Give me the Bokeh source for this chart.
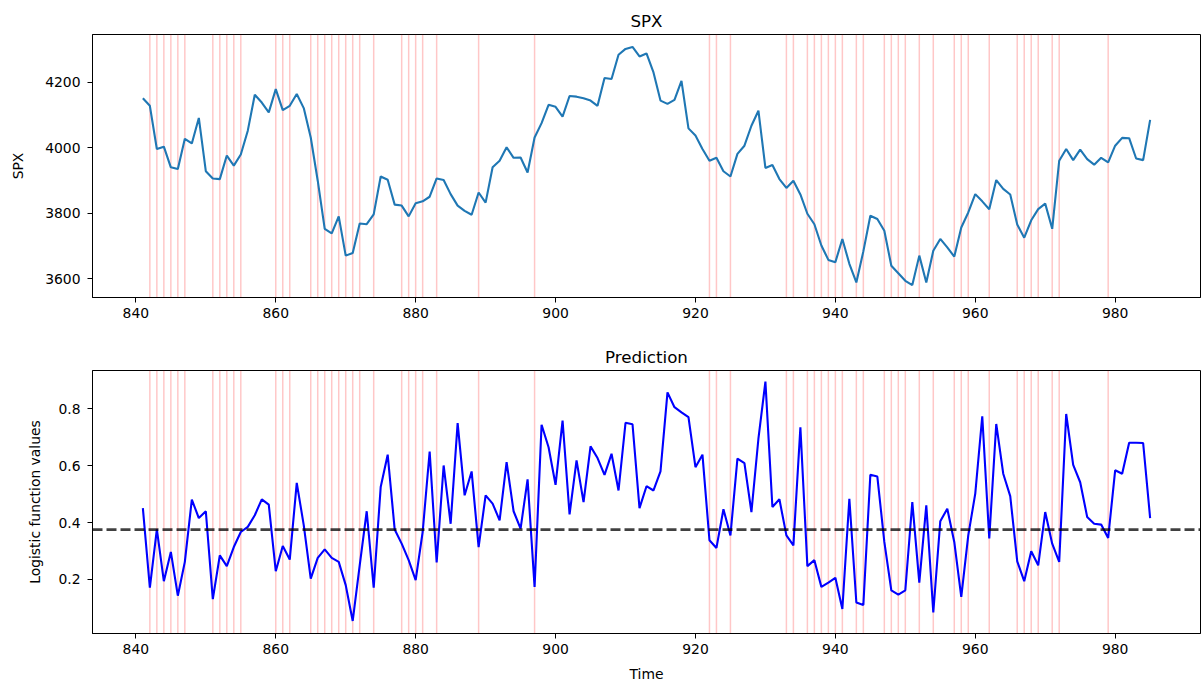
from bokeh.plotting import figure
from bokeh.models import Range1d, FixedTicker, Span
from bokeh.layouts import column
from bokeh.embed import file_html
from bokeh.resources import INLINE

# ---------------- data ----------------
time = list(range(841, 986))

spx = [4151, 4128, 3996, 4003, 3940, 3935, 4027, 4013, 4091, 3928,
       3906, 3904, 3976, 3945, 3979, 4052, 4162, 4138, 4108, 4179,
       4115, 4128, 4164, 4121, 4031, 3899, 3752, 3738, 3790, 3670,
       3678, 3768, 3766, 3796, 3912, 3902, 3826, 3823, 3790, 3830,
       3836, 3850, 3906, 3901, 3858, 3823, 3807, 3795, 3863, 3832,
       3940, 3960, 4001, 3969, 3970, 3924, 4031, 4075, 4131, 4125,
       4095, 4158, 4156, 4151, 4144, 4128, 4213, 4210, 4284, 4302,
       4308, 4279, 4288, 4230, 4144, 4134, 4146, 4204, 4059, 4037,
       3996, 3960, 3969, 3928, 3912, 3981, 4006, 4067, 4113, 3938,
       3947, 3904, 3877, 3899, 3857, 3798, 3766, 3701, 3657, 3650,
       3721, 3645, 3588, 3683, 3792, 3782, 3746, 3639, 3616, 3593,
       3580, 3670, 3588, 3685, 3721, 3695, 3667, 3756, 3802, 3858,
       3836, 3812, 3901, 3874, 3857, 3765, 3725, 3778, 3812, 3829,
       3752, 3960, 3996, 3962, 3994, 3965, 3948, 3969, 3955, 4006,
       4030, 4029, 3967, 3962, 4085]

prediction = [0.451, 0.171, 0.376, 0.194, 0.297, 0.143, 0.262, 0.481, 0.416, 0.440,
              0.131, 0.285, 0.247, 0.314, 0.367, 0.385, 0.426, 0.482, 0.463, 0.229,
              0.318, 0.270, 0.540, 0.391, 0.203, 0.276, 0.306, 0.276, 0.262, 0.180,
              0.054, 0.250, 0.440, 0.171, 0.525, 0.639, 0.376, 0.326, 0.268, 0.198,
              0.367, 0.650, 0.260, 0.601, 0.396, 0.750, 0.496, 0.580, 0.314, 0.496,
              0.467, 0.408, 0.613, 0.440, 0.379, 0.552, 0.174, 0.744, 0.665, 0.533,
              0.759, 0.429, 0.619, 0.472, 0.668, 0.627, 0.568, 0.642, 0.513, 0.751,
              0.746, 0.451, 0.528, 0.513, 0.580, 0.858, 0.806, 0.788, 0.771, 0.595,
              0.639, 0.338, 0.311, 0.447, 0.355, 0.625, 0.609, 0.437, 0.695, 0.896,
              0.455, 0.482, 0.355, 0.320, 0.735, 0.247, 0.268, 0.174, 0.189, 0.206,
              0.096, 0.484, 0.119, 0.110, 0.568, 0.562, 0.332, 0.162, 0.147, 0.162,
              0.472, 0.189, 0.461, 0.084, 0.405, 0.449, 0.332, 0.139, 0.355, 0.502,
              0.774, 0.344, 0.747, 0.572, 0.493, 0.264, 0.194, 0.299, 0.250, 0.437,
              0.326, 0.262, 0.782, 0.603, 0.542, 0.420, 0.396, 0.393, 0.346, 0.584,
              0.572, 0.681, 0.681, 0.680, 0.416]

signal_times = [842, 843, 844, 845, 846, 847, 851, 852, 853, 854, 855,
                860, 861, 862, 865, 866, 867, 868, 869, 870, 871, 872, 874,
                878, 879, 880, 881, 883, 889, 897, 922, 923, 925,
                933, 934, 936, 937, 938, 939, 940, 941, 943, 944,
                947, 948, 949, 950, 952, 954, 957, 958, 959, 962,
                966, 967, 968, 969, 971, 972, 979]

threshold = 0.375

x_ticks = [840, 860, 880, 900, 920, 940, 960, 980]
spx_ticks = [3600, 3800, 4000, 4200]
pred_ticks = [0.2, 0.4, 0.6, 0.8]

FONT = "DejaVu Sans"
TICK_SIZE = "13.9px"
TITLE_SIZE = "16.7px"


def style(p, xt, yt):
    p.xgrid.visible = False
    p.ygrid.visible = False
    p.outline_line_color = "black"
    p.outline_line_width = 1
    p.background_fill_color = "white"
    p.border_fill_color = "white"
    p.title.align = "center"
    p.title.text_font = FONT
    p.title.text_font_size = TITLE_SIZE
    p.title.text_font_style = "normal"
    p.title.text_color = "black"
    p.title.standoff = 8
    for ax, ticks in ((p.xaxis[0], xt), (p.yaxis[0], yt)):
        ax.ticker = FixedTicker(ticks=ticks)
        ax.minor_tick_line_color = None
        ax.major_tick_in = 0
        ax.major_tick_out = 5
        ax.major_tick_line_color = "black"
        ax.axis_line_color = "black"
        ax.major_label_text_font = FONT
        ax.major_label_text_font_size = TICK_SIZE
        ax.major_label_text_color = "black"
        ax.axis_label_text_font = FONT
        ax.axis_label_text_font_size = TICK_SIZE
        ax.axis_label_text_font_style = "normal"
        ax.axis_label_text_color = "black"
    p.xaxis[0].major_label_standoff = 5
    p.yaxis[0].major_label_standoff = 7
    p.xaxis[0].axis_label_standoff = 9
    for t in signal_times:
        p.add_layout(Span(location=t, dimension="height", line_color="red",
                          line_alpha=0.22, line_width=1.5, level="underlay"))


# ---------------- top: SPX ----------------
p1 = figure(width=1202, height=330, output_backend="svg", toolbar_location=None,
            x_range=Range1d(833.8, 992.2), y_range=Range1d(3542, 4346),
            min_border_left=92, min_border_right=2, min_border_top=34,
            min_border_bottom=33, title="SPX")
style(p1, x_ticks, spx_ticks)
p1.yaxis[0].axis_label = "SPX"
p1.yaxis[0].axis_label_standoff = 16
p1.line(time, spx, line_color="#1f77b4", line_width=2.1)

# ---------------- bottom: Prediction ----------------
p2 = figure(width=1202, height=354, output_backend="svg", toolbar_location=None,
            x_range=Range1d(833.8, 992.2), y_range=Range1d(0.01, 0.935),
            min_border_left=92, min_border_right=2, min_border_top=40,
            min_border_bottom=50, title="Prediction")
style(p2, x_ticks, pred_ticks)
p2.yaxis[0].axis_label = "Logistic function values"
p2.yaxis[0].axis_label_standoff = 12
p2.xaxis[0].axis_label = "Time"
p2.line(time, prediction, line_color="blue", line_width=2.1)
p2.add_layout(Span(location=threshold, dimension="width", line_color="black",
                   line_alpha=0.75, line_width=2.8, line_dash="10 4"))

layout = column(p1, p2, spacing=0)
open("out.html", "w").write(file_html(layout, INLINE))
